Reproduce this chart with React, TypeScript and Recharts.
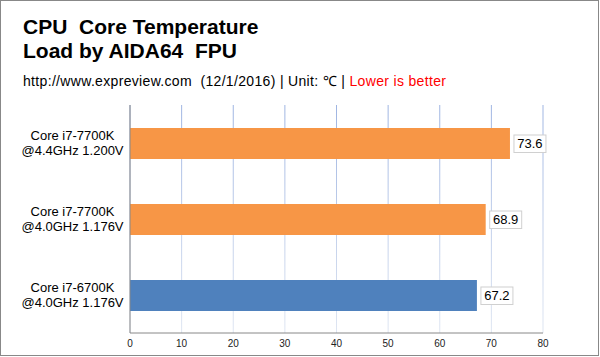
import { BarChart, Bar, XAxis, YAxis, CartesianGrid, Cell, LabelList } from 'recharts';

const categories = ['Core i7-7700K|@4.4GHz 1.200V', 'Core i7-7700K|@4.0GHz 1.176V', 'Core i7-6700K|@4.0GHz 1.176V'];
const temps = [73.6, 68.9, 67.2];
const barColors = ['#f79646', '#f79646', '#4f81bd'];
const xTicks = [0, 10, 20, 30, 40, 50, 60, 70, 80];

const data = categories.map((name, i) => ({ name, temp: temps[i] }));

const FONT = '"Liberation Sans", Arial, sans-serif';

function CategoryTick({ x, y, payload }: any) {
  const [l1, l2] = String(payload.value).split('|');
  return (
    <text x={72.5} y={y} textAnchor="middle" fontSize={13} fill="#000" fontFamily={FONT}>
      <tspan x={72.5} dy={-3.5}>{l1}</tspan>
      <tspan x={72.5} dy={15}>{l2}</tspan>
    </text>
  );
}

function ValueTick({ x, y, payload }: any) {
  return (
    <text x={x} y={y + 5.5} textAnchor="middle" fontSize={10} fill="#222" fontFamily={FONT}>
      {payload.value}
    </text>
  );
}

function ValueBox({ x, y, width, height, value }: any) {
  const bx = x + width + 4;
  const cy = y + height / 2;
  return (
    <g>
      <rect x={bx} y={cy - 8.5} width={32} height={17.5} fill="#fff" stroke="#d0d0d0" />
      <text x={bx + 16} y={cy + 4.5} textAnchor="middle" fontSize={13} fill="#000" fontFamily={FONT}>
        {value}
      </text>
    </g>
  );
}

export default function App() {
  return (
    <div style={{ position: 'absolute', left: 0, top: 0, width: 600, height: 357, background: '#fff', fontFamily: FONT }}>
      <div style={{ position: 'absolute', left: 0, top: 0, width: 597, height: 354, border: '1px solid #888' }} />
      <div style={{ position: 'absolute', left: 23, top: 15, fontSize: 21, fontWeight: 'bold', lineHeight: '23.7px', whiteSpace: 'pre', color: '#000' }}>
        {'CPU  Core Temperature\nLoad by AIDA64  FPU'}
      </div>
      <div style={{ position: 'absolute', left: 23, top: 72.5, fontSize: 14, lineHeight: '16px', letterSpacing: 0.33, whiteSpace: 'pre', color: '#000' }}>
        {'http://www.expreview.com  (12/1/2016) | Unit: \u2103 | '}
        <span style={{ color: '#ff0000' }}>Lower is better</span>
      </div>
      <div style={{ position: 'absolute', left: 0, top: 0 }}>
        <BarChart
          width={600}
          height={357}
          data={data}
          layout="vertical"
          margin={{ top: 105, right: 57, bottom: 0, left: 0 }}
          barCategoryGap={45}
        >
          <defs>
            <linearGradient id="gridFade" gradientUnits="userSpaceOnUse" x1="0" y1="105" x2="0" y2="333">
              <stop offset="0%" stopColor="#9fb5e2" />
              <stop offset="100%" stopColor="#dfe6f2" />
            </linearGradient>
          </defs>
          <CartesianGrid horizontal={false} vertical stroke="url(#gridFade)" />
          <XAxis
            type="number"
            domain={[0, 80]}
            ticks={xTicks}
            tickLine={false}
            axisLine={{ stroke: '#888' }}
            tick={<ValueTick />}
            height={24}
            interval={0}
          />
          <YAxis
            type="category"
            dataKey="name"
            width={130}
            tickLine={false}
            axisLine={{ stroke: '#888' }}
            tick={<CategoryTick />}
            interval={0}
          />
          <Bar dataKey="temp" barSize={31} isAnimationActive={false}>
            {data.map((d, i) => (
              <Cell key={d.name} fill={barColors[i]} />
            ))}
            <LabelList dataKey="temp" content={<ValueBox />} />
          </Bar>
        </BarChart>
      </div>
    </div>
  );
}
